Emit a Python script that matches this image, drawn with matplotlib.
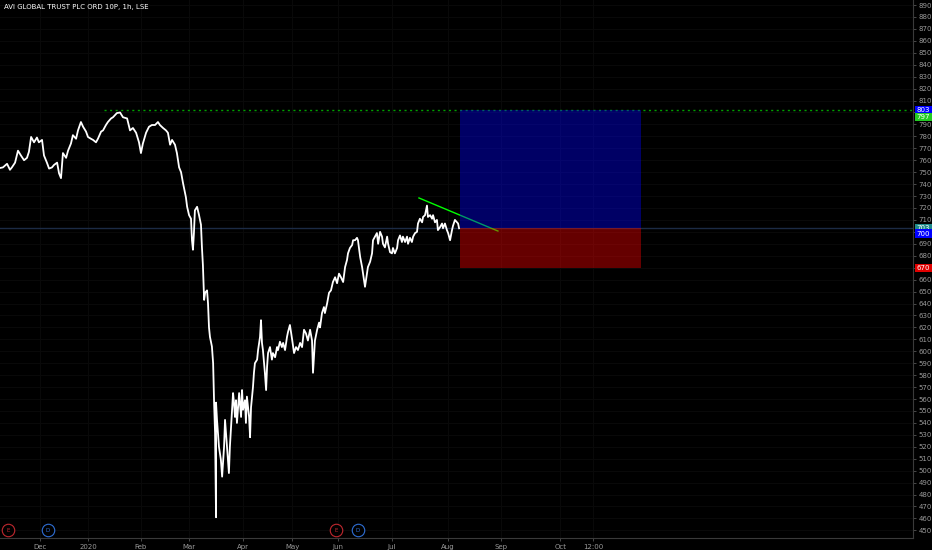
import matplotlib
matplotlib.use('Agg')
import matplotlib.pyplot as plt
import matplotlib.transforms as mtransforms

# AVI Global Trust, 1h bars. x = trading sessions counted from 8 Nov 2019
session = [-0.6, 0.6, 2.3, 3.5, 4.3, 5.6, 6.8, 8.0, 9.3, 10.5, 11.3, 12.2, 13.4, 14.6, 15.4,
           16.7, 17.5, 18.7, 19.6, 20.8, 21.6, 22.9, 23.7, 24.5, 25.3, 26.6, 27.4, 28.6, 29.4,
           30.7, 31.5, 32.7, 33.6, 34.8, 35.6, 36.8, 37.7, 38.9, 39.7, 41.0, 41.8, 43.0, 43.8,
           45.1, 45.9, 47.5, 48.8, 50.0, 51.7, 52.9, 54.1, 55.4, 56.6, 57.4, 58.2, 59.5, 60.7,
           61.9, 63.2, 64.4, 65.2, 66.5, 67.7, 68.5, 69.4, 70.2, 71.4, 72.2, 73.1, 73.9, 74.7,
           75.9, 76.4, 77.2, 78.0, 78.4, 78.8, 79.2, 79.6, 80.5, 81.3, 82.1, 82.5, 82.9, 83.4,
           83.8, 84.6, 85.0, 85.4, 85.8, 86.6, 87.1, 87.5, 87.9, 88.3, 88.3, 88.7, 89.5, 90.3,
           90.8, 91.6, 92.0, 92.8, 93.6, 94.0, 94.5, 95.3, 95.7, 96.1, 96.5, 96.9, 97.8, 98.6,
           99.0, 99.4, 100.2, 100.6, 101.0, 101.9, 102.3, 102.7, 103.5, 103.9, 104.3, 105.2,
           105.6, 106.4, 106.8, 107.2, 107.6, 108.4, 108.9, 109.3, 109.7, 110.5, 111.3, 111.7,
           112.6, 113.4, 113.8, 114.6, 115.4, 115.9, 116.7, 117.5, 117.9, 118.7, 119.6, 120.4,
           121.2, 122.0, 122.9, 123.7, 124.5, 125.3, 126.1, 127.0, 127.8, 128.2, 129.0, 129.9,
           130.7, 131.1, 131.9, 132.7, 133.1, 134.0, 134.8, 135.6, 136.4, 137.3, 138.1, 138.9,
           139.7, 140.6, 141.4, 142.2, 142.6, 143.4, 144.3, 144.7, 145.5, 146.3, 146.7, 147.6,
           148.4, 148.8, 149.6, 150.4, 150.8, 151.7, 152.5, 152.9, 153.7, 154.5, 155.0, 155.8,
           156.6, 157.0, 157.8, 158.7, 159.1, 159.9, 160.7, 161.1, 161.9, 162.8, 163.2, 164.0,
           164.8, 165.2, 166.1, 166.9, 167.3, 168.1, 168.9, 169.4, 170.2, 171.0, 171.4, 172.2,
           173.1, 173.5, 174.3, 175.1, 175.5, 176.4, 177.2, 177.6, 178.4, 179.2, 179.6, 180.5,
           181.3, 181.7, 182.5, 183.3, 183.8, 184.6, 185.4, 185.8, 186.6, 187.5, 187.9, 188.3]
close = [753.5, 754, 757, 752, 754, 758, 768, 764, 760, 762, 767, 779.5, 775, 779, 775,
         777, 764, 758, 753, 754, 756, 758, 749, 745, 766, 762, 768, 774, 781,
         778, 785, 792, 788, 784, 779.5, 778, 777, 775, 778, 784, 785, 789.5, 792,
         795, 796, 799.5, 800, 796, 795, 785, 787, 783, 775, 766, 774, 783, 788,
         789.5, 789.5, 792, 789.5, 787, 785, 783, 773, 777, 773, 766, 754, 750, 741,
         729, 721, 714, 711, 693, 685, 699, 718, 721, 714, 706, 687, 672, 643,
         649, 651, 640, 620, 612, 604, 590, 557, 531.5, 461, 557, 542.5, 520, 509,
         495, 520, 542.5, 520, 498, 520, 537, 565, 556.5, 545, 559, 540, 565, 545,
         567.5, 551, 559, 540, 562, 545, 528, 553, 570, 582, 590, 593,
         601, 612, 626, 607, 601, 582, 567.5, 587, 598.5, 603.5, 593, 598.5,
         595, 603.5, 601, 608, 603.5, 607, 601, 612, 616, 622, 610, 598.5,
         603.5, 601, 607, 603.5, 618, 615, 609, 618, 609, 582, 609, 618,
         624, 620, 632, 637, 632, 640, 649, 651, 658, 662, 657, 665,
         662, 658, 670.5, 676.5, 682, 686.5, 689, 693, 693, 695, 693, 679,
         670.5, 665, 654, 665, 670.5, 675, 682, 693, 696, 699, 690, 700,
         696, 690, 687, 696, 690, 683, 682, 686.5, 682, 686.5, 693, 697,
         691.5, 696, 691.5, 696, 690, 695, 691.5, 696, 699, 700, 707, 711,
         708, 712.5, 714, 722, 712.5, 714, 711, 714, 708, 710, 701.5, 704,
         707, 703, 707, 701.5, 699, 693, 701.5, 705, 710, 708, 707, 703]

month_labels = ['Dec', '2020', 'Feb', 'Mar', 'Apr', 'May', 'Jun', 'Jul', 'Aug', 'Sep', 'Oct', '12:00']
month_sessions = [16.0, 35.6, 57.4, 77.2, 99.4, 119.6, 138.5, 160.7, 183.8, 205.6, 229.9, 243.4]

# long position tool
entry = 703.2
target = 802.0
stop = 669.7
box_start = 188.7
box_end = 263.2

# drawings
trend_x = [171.8, 204.3]
trend_y = [728.4, 700.7]
resistance = 802.0
resistance_from = 42.2

event_kind = ['E', 'D', 'E', 'D']
event_session = [2.7, 19.2, 137.7, 146.7]

# price scale tags: text, price, colour
tag_text = ['803', '797', '703', '700', '670']
tag_price = [802.0, 796.3, 703.2, 698.4, 669.7]
tag_color = ['#0000ff', '#22cc22', '#1f8a8a', '#0000ff', '#e00000']
hidden_ticks = [800, 700, 670]

bg = '#000000'
fig = plt.figure(figsize=(9.32, 5.5), dpi=100, facecolor=bg)
ax = fig.add_axes([0, 12 / 550, 913 / 932, 538 / 550], facecolor=bg)

ax.set_xlim(-0.6, 375.1)
ax.set_ylim(443.6, 894.2)

ax.plot(session, close, color='white', lw=1.3, zorder=3)

ax.axhline(entry, color='#1c2b45', lw=1.0, zorder=2)
ax.plot([resistance_from, 375.1], [resistance, resistance], color='#00a000',
        lw=1.0, ls=(0, (1.5, 2.5)), zorder=2)
ax.plot(trend_x, trend_y, color='#00ff00', lw=1.0, zorder=2)

ax.fill_between([box_start, box_end], entry, target, color='#0000ff', alpha=0.4, lw=0, zorder=4)
ax.fill_between([box_start, box_end], stop, entry, color='#ff0000', alpha=0.4, lw=0, zorder=4)

# grid
ax.set_xticks(month_sessions)
ax.set_xticklabels(month_labels)
yt = list(range(450, 891, 10))
ax.set_yticks(yt)
ax.set_yticklabels(['' if v in hidden_ticks else str(v) for v in yt])
ax.grid(True, color='#0a0a0a', lw=0.7, zorder=0)

ax.yaxis.tick_right()
ax.tick_params(axis='y', colors='#555555', labelcolor='#9a9a9a', labelsize=5,
               length=2, width=0.6, pad=2)
ax.tick_params(axis='x', colors='#555555', labelcolor='#9a9a9a', labelsize=5,
               length=2, width=0.6, pad=2)
for side in ['top', 'left']:
    ax.spines[side].set_visible(False)
for side in ['right', 'bottom']:
    ax.spines[side].set_color('#3a3a3a')
    ax.spines[side].set_linewidth(0.8)

# price tags on the scale
tr = mtransforms.blended_transform_factory(ax.transAxes, ax.transData)
for txt, p, c in zip(tag_text, tag_price, tag_color):
    ax.text(1.004, p, txt, transform=tr, fontsize=5, color='white', va='center', ha='left',
            clip_on=False, zorder=6,
            bbox=dict(boxstyle='square,pad=0.2', fc=c, ec='none'))

# earnings / dividend markers
tr2 = mtransforms.blended_transform_factory(ax.transData, ax.transAxes)
for k, s in zip(event_kind, event_session):
    c = '#c0282f' if k == 'E' else '#2f6fd6'
    ax.plot(s, 0.014, marker='o', ms=9, mfc=bg, mec=c, mew=0.8, transform=tr2,
            clip_on=False, zorder=6)
    ax.text(s, 0.014, k, transform=tr2, fontsize=4, color=c, ha='center', va='center',
            zorder=7)

fig.text(4 / 932, 1 - 7 / 550, 'AVI GLOBAL TRUST PLC ORD 10P, 1h, LSE', color='white',
         fontsize=5, va='center', ha='left')

fig.savefig('out.png', dpi=100, facecolor=bg)
